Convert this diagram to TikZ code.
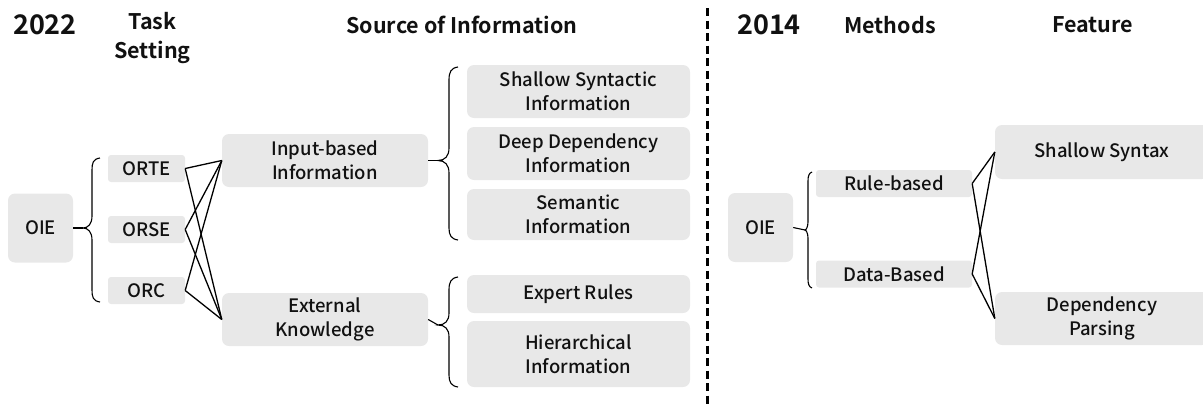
\documentclass[tikz,border=0pt]{standalone}
\usepackage{fontspec}
\setmainfont{Noto Sans CJK SC}[UprightFont=* Medium, BoldFont=* Bold]
\definecolor{boxgray}{HTML}{E8E8E8}
\definecolor{txt}{HTML}{111111}
\tikzset{
  box/.style={fill=boxgray, rounded corners=7pt, inner sep=0pt, align=center, text=txt,
     font=\fontsize{18.5}{24}\selectfont},
  head/.style={align=center, text=txt, font=\fontsize{21.5}{28.5}\selectfont\bfseries},
  year/.style={text=txt, font=\fontsize{27}{30}\selectfont\bfseries},
  conn/.style={line width=1.3pt, black},
  brace/.style={line width=1.1pt, black},
}
\begin{document}
\begin{tikzpicture}[x=1pt,y=-1pt]
\useasboundingbox (0,0) rectangle (1203,405);
% headings
\node[year] (y22) at (45,25) {2022};
\node[head] (hts) at (152.5,38) {Task\\Setting};
\node[head] (hsi) at (462,25) {Source of Information};
\node[year] (y14) at (769,25) {2014};
\node[head] (hme) at (890,25) {Methods};
\node[head] (hfe) at (1092.5,25) {Feature};
% left part boxes
\node[box, minimum width=65pt, minimum height=69pt] (oie1) at (40.5,228) {OIE};
\node[box, minimum width=77pt, minimum height=27pt, rounded corners=3pt] (orte) at (146.5,168.5) {ORTE};
\node[box, minimum width=77pt, minimum height=27pt, rounded corners=3pt] (orse) at (146.5,229.5) {ORSE};
\node[box, minimum width=77pt, minimum height=27pt, rounded corners=3pt] (orc) at (146.5,290.5) {ORC};
\node[box, minimum width=206pt, minimum height=53pt] (inp) at (325,160.5) {Input-based\\Information};
\node[box, minimum width=206pt, minimum height=53pt] (ext) at (325,319.5) {External\\Knowledge};
\node[box, minimum width=223pt, minimum height=53pt] (ssi) at (578.5,91.5) {Shallow Syntactic\\Information};
\node[box, minimum width=223pt, minimum height=53pt] (ddi) at (578.5,153.5) {Deep Dependency\\Information};
\node[box, minimum width=223pt, minimum height=51pt] (sem) at (578.5,214.5) {Semantic\\Information};
\node[box, minimum width=223pt, minimum height=38pt] (exr) at (578.5,294) {Expert Rules};
\node[box, minimum width=223pt, minimum height=66pt] (hie) at (578.5,354) {Hierarchical\\Information};
% right part boxes
\node[box, minimum width=65pt, minimum height=69pt] (oie2) at (760.5,227.5) {OIE};
\node[box, minimum width=156pt, minimum height=27pt, rounded corners=3pt] (rule) at (894,183.5) {Rule-based};
\node[box, minimum width=156pt, minimum height=27pt, rounded corners=3pt] (data) at (894,274) {Data-Based};
\node[box, minimum width=214pt, minimum height=54pt] (shs) at (1102,152) {Shallow Syntax};
\node[box, minimum width=214pt, minimum height=53pt] (dep) at (1102,318.5) {Dependency\\Parsing};
% braces
\draw[brace] (oie1.east) -- (83,228);
\draw[brace] (100,158) .. controls (93,159) and (92,163) .. (92,170) -- (92,216)
   .. controls (92,224) and (88,228) .. (83,228) .. controls (88,228) and (92,232) .. (92,240)
   -- (92,290) .. controls (92,297) and (93,301) .. (100,302);
\draw[brace] (inp.east) -- (438,160.5);
\draw[brace] (458,67) .. controls (451,68) and (449,72) .. (449,80) -- (449,148)
   .. controls (449,156) and (445,160.5) .. (438,160.5) .. controls (445,160.5) and (449,165) .. (449,173)
   -- (449,228) .. controls (449,235) and (451,239) .. (458,240);
\draw[brace] (ext.east) -- (438,325);
\draw[brace] (458,277) .. controls (451,278) and (449,282) .. (449,290) -- (449,313)
   .. controls (449,321) and (445,325) .. (438,325) .. controls (445,325) and (449,329) .. (449,337)
   -- (449,375) .. controls (449,382) and (451,386) .. (458,387);
\draw[brace] (oie2.east) -- (805,230);
\draw[brace] (812,172) .. controls (809,173) and (808,176) .. (808,181) -- (808,222)
   .. controls (808,227) and (806,230) .. (805,230) .. controls (806,230) and (808,233) .. (808,238)
   -- (808,279) .. controls (808,284) and (809,287) .. (812,288);
% connectors
\foreach \t in {orte,orse,orc} {
  \draw[conn] (\t.east) -- (inp.west);
  \draw[conn] (\t.east) -- (ext.west);
}
\foreach \t in {rule,data} {
  \draw[conn] (\t.east) -- (shs.west);
  \draw[conn] (\t.east) -- (dep.west);
}
% separator
\coordinate (st) at (707,8);
\coordinate (sb) at (707,405);
\draw[line width=3pt, dash pattern=on 8pt off 4.5pt] (st) -- (sb);
\end{tikzpicture}
\end{document}
